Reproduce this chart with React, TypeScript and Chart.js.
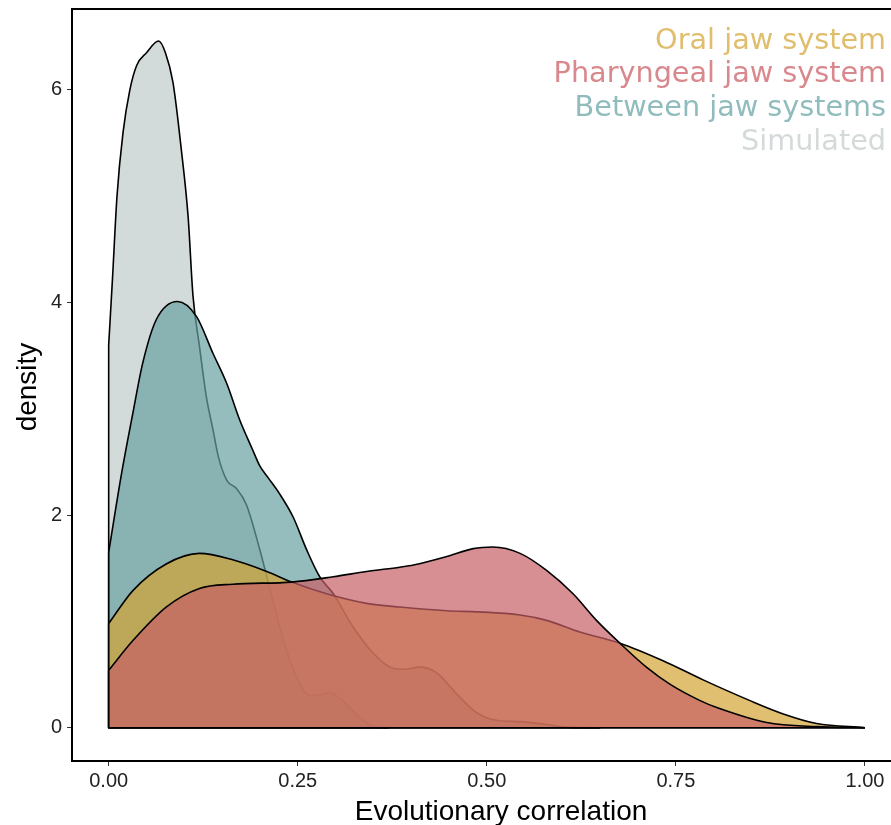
import React, { useEffect, useRef } from "react";
import { Chart, registerables } from "chart.js";

Chart.register(...registerables);

// ---- Data ----
const seriesNames = [
  "Oral jaw system",
  "Pharyngeal jaw system",
  "Between jaw systems",
  "Simulated",
];

const oralX = [0, 0.032, 0.076, 0.12, 0.164, 0.209, 0.242, 0.288, 0.341, 0.385, 0.447, 0.49, 0.544, 0.579, 0.623, 0.676, 0.733, 0.786, 0.848, 0.892, 0.936, 1.0];
const oralY = [0.98, 1.29, 1.54, 1.64, 1.58, 1.47, 1.37, 1.26, 1.17, 1.135, 1.1, 1.09, 1.06, 1.01, 0.9, 0.795, 0.63, 0.45, 0.255, 0.13, 0.04, 0.0];

const pharyngealX = [0, 0.032, 0.076, 0.12, 0.164, 0.242, 0.297, 0.341, 0.385, 0.403, 0.447, 0.482, 0.508, 0.544, 0.579, 0.614, 0.645, 0.676, 0.711, 0.742, 0.782, 0.804, 0.87, 0.936, 1.0];
const pharyngealY = [0.54, 0.82, 1.135, 1.31, 1.35, 1.37, 1.42, 1.47, 1.51, 1.53, 1.61, 1.685, 1.7, 1.64, 1.48, 1.26, 1.01, 0.795, 0.57, 0.41, 0.255, 0.19, 0.05, 0.01, 0.0];

const betweenX = [0, 0.017, 0.032, 0.045, 0.063, 0.091, 0.116, 0.138, 0.156, 0.173, 0.19, 0.2, 0.211, 0.226, 0.244, 0.262, 0.279, 0.297, 0.323, 0.35, 0.372, 0.39, 0.411, 0.433, 0.46, 0.486, 0.513, 0.544, 0.579, 0.61, 0.65];
const betweenY = [1.65, 2.39, 2.96, 3.43, 3.84, 4.01, 3.87, 3.52, 3.24, 2.9, 2.62, 2.46, 2.35, 2.2, 1.98, 1.67, 1.42, 1.26, 0.95, 0.7, 0.57, 0.55, 0.57, 0.52, 0.32, 0.145, 0.07, 0.057, 0.03, 0.003, 0.0];

const simulatedX = [0, 0.005, 0.011, 0.019, 0.028, 0.037, 0.05, 0.066, 0.075, 0.085, 0.096, 0.105, 0.1115, 0.12, 0.129, 0.138, 0.145, 0.156, 0.169, 0.182, 0.2, 0.217, 0.235, 0.253, 0.266, 0.28, 0.292, 0.31, 0.332, 0.35, 0.37];
const simulatedY = [3.6, 4.22, 5.0, 5.6, 6.0, 6.23, 6.35, 6.46, 6.35, 6.07, 5.44, 4.81, 4.06, 3.59, 3.12, 2.8, 2.55, 2.33, 2.25, 2.1, 1.67, 1.2, 0.73, 0.41, 0.3, 0.31, 0.33, 0.25, 0.1, 0.01, 0.0];

const xTicks = [0, 0.25, 0.5, 0.75, 1.0];
const yTicks = [0, 2, 4, 6];

const fillColors = [
  "rgba(211,164,51,0.7)",
  "rgba(199,96,102,0.7)",
  "rgba(105,161,161,0.7)",
  "rgba(192,202,202,0.7)",
];
const legendColors = ["#E0BE6E", "#D9898D", "#90BCBD", "#D4DADA"];

const xTitle = "Evolutionary correlation";
const yTitle = "density";

const toPoints = (xs: number[], ys: number[]) => xs.map((x, i) => ({ x, y: ys[i] }));

export default function App() {
  const ref = useRef<HTMLCanvasElement | null>(null);

  useEffect(() => {
    if (!ref.current) return;

    const edgePlugin = {
      id: "edges",
      afterDatasetDraw(chart: any, args: any) {
        const ds = chart.data.datasets[args.index];
        const pts = ds.data;
        const xs = chart.scales.x;
        const ys = chart.scales.y;
        const ctx = chart.ctx;
        const a = chart.chartArea;
        ctx.save();
        ctx.beginPath();
        ctx.rect(a.left, a.top, a.right - a.left, a.bottom - a.top);
        ctx.clip();
        ctx.beginPath();
        ctx.moveTo(xs.getPixelForValue(pts[pts.length - 1].x), ys.getPixelForValue(0));
        ctx.lineTo(xs.getPixelForValue(pts[0].x), ys.getPixelForValue(0));
        ctx.lineTo(xs.getPixelForValue(pts[0].x), ys.getPixelForValue(pts[0].y));
        ctx.lineWidth = 1.6;
        ctx.strokeStyle = "#000";
        ctx.lineJoin = "round";
        ctx.stroke();
        ctx.restore();
      },
    };

    const decoPlugin = {
      id: "deco",
      afterDraw(chart: any) {
        const ctx = chart.ctx;
        const a = chart.chartArea;
        ctx.save();
        // frame: left, top, bottom
        ctx.strokeStyle = "#000";
        ctx.lineWidth = 2;
        ctx.beginPath();
        ctx.moveTo(a.left, a.bottom);
        ctx.lineTo(a.left, a.top);
        ctx.lineTo(chart.width, a.top);
        ctx.moveTo(a.left - 1, a.bottom);
        ctx.lineTo(chart.width, a.bottom);
        ctx.stroke();

        // legend
        ctx.font = '28.7px "DejaVu Sans"';
        ctx.textAlign = "right";
        ctx.textBaseline = "alphabetic";
        seriesNames.forEach((name, i) => {
          ctx.fillStyle = legendColors[i];
          ctx.fillText(name, 886, 48.5 + i * 33.9);
        });

        // axis titles
        ctx.fillStyle = "#000";
        ctx.font = '28px "Liberation Sans", Arial, sans-serif';
        ctx.textAlign = "center";
        ctx.fillText(xTitle, 501, 820);
        ctx.translate(36, 387);
        ctx.rotate(-Math.PI / 2);
        ctx.fillText(yTitle, 0, 0);
        ctx.restore();
      },
    };

    const mk = (xs: number[], ys: number[], color: string) => ({
      data: toPoints(xs, ys),
      borderColor: "#000",
      borderWidth: 1.6,
      backgroundColor: color,
      fill: "origin",
      pointRadius: 0,
      pointHoverRadius: 0,
      cubicInterpolationMode: "monotone",
    });

    const tickFont = { family: '"Liberation Sans", Arial, sans-serif', size: 20 };
    const noPad = (s: any) => {
      s.paddingTop = 0;
      s.paddingBottom = 0;
      s.paddingLeft = 0;
      s.paddingRight = 0;
    };

    const chart = new Chart(ref.current, {
      type: "line",
      data: {
        datasets: [
          mk(pharyngealX, pharyngealY, fillColors[1]),
          mk(oralX, oralY, fillColors[0]),
          mk(betweenX, betweenY, fillColors[2]),
          mk(simulatedX, simulatedY, fillColors[3]),
        ] as any,
      },
      options: {
        responsive: false,
        animation: false,
        devicePixelRatio: 1,
        layout: { padding: { top: 9, right: 0, left: 0, bottom: 0 } },
        plugins: {
          legend: { display: false },
          tooltip: { enabled: false },
          filler: { drawTime: "beforeDatasetDraw" },
        } as any,
        scales: {
          x: {
            type: "linear",
            min: -0.0485,
            max: 1.0344,
            border: { display: false },
            grid: { display: true, drawOnChartArea: false, drawTicks: true, tickLength: 5, color: "#333", lineWidth: 1 },
            ticks: {
              font: tickFont,
              color: "#222",
              padding: 3,
              maxRotation: 0,
              autoSkip: false,
              callback: (v: any) => Number(v).toFixed(2),
            },
            afterBuildTicks: (s: any) => {
              s.ticks = xTicks.map((v) => ({ value: v }));
            },
            afterFit: (s: any) => {
              s.height = 64;
              noPad(s);
            },
          },
          y: {
            type: "linear",
            min: -0.313,
            max: 6.761,
            border: { display: false },
            grid: { display: true, drawOnChartArea: false, drawTicks: true, tickLength: 5, color: "#333", lineWidth: 1 },
            ticks: {
              font: tickFont,
              color: "#222",
              padding: 5,
              autoSkip: false,
              callback: (v: any) => String(v),
            },
            afterBuildTicks: (s: any) => {
              s.ticks = yTicks.map((v) => ({ value: v }));
            },
            afterFit: (s: any) => {
              s.width = 72;
              noPad(s);
            },
          },
        },
      } as any,
      plugins: [edgePlugin, decoPlugin],
    });

    return () => chart.destroy();
  }, []);

  return (
    <div style={{ position: "absolute", left: 0, top: 0, width: 891, height: 825, background: "#fff" }}>
      <canvas ref={ref} width={891} height={825} style={{ display: "block" }} />
    </div>
  );
}
